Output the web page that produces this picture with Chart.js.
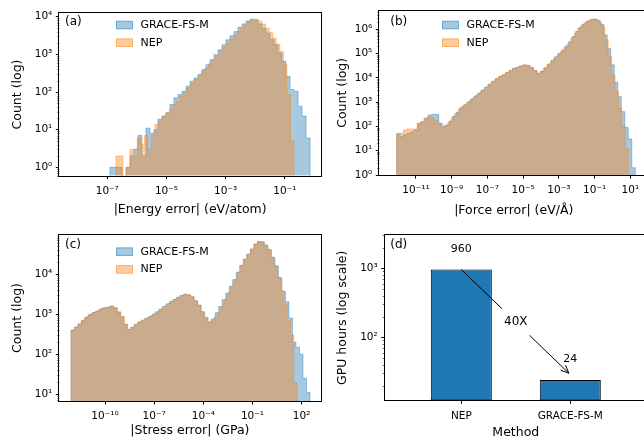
<!DOCTYPE html>
<html><head><meta charset="utf-8">
<script src="https://cdn.jsdelivr.net/npm/chart.js@4/dist/chart.umd.min.js"></script>
<style>
html,body{margin:0;padding:0;background:#fff;overflow:hidden;width:644px;height:439px;position:relative;}
canvas{position:absolute;}
</style></head>
<body>
<canvas id="ca" width="322" height="220" style="left:0;top:0"></canvas>
<canvas id="cb" width="330" height="220" style="left:322px;top:0"></canvas>
<canvas id="cc" width="322" height="219" style="left:0;top:220px"></canvas>
<canvas id="cd" width="330" height="219" style="left:322px;top:220px"></canvas>
<script>
// ---------------- DATA ----------------
const seriesNames = ['GRACE-FS-M', 'NEP'];

// (a) energy error histogram: log10 bin range + counts per bin
const energyRangeGrace = [-6.91, -0.15];
const energyCountsGrace = [1,1,1,0,1,2,3,7,2,11,8,10,19,23,28,47,70,86,105,143,194,237,290,394,
  532,721,977,1320,1795,2430,3100,4040,5260,6430,7710,8530,8100,6430,4940,3650,2530,1795,1080,652,262,117,105,42,23,6];
const energyRangeNep = [-6.71, -0.69];
const energyCountsNep = [2,2,0,1,3,2,6,4,7,3,7,14,17,23,28,34,47,57,78,99,130,168,214,273,350,435,566,721,920,1200,
  1560,1990,2530,3170,4040,4940,6060,7260,8370,8530,7710,6430,4940,3800,2690,1865,1200,533,86,5];
const energyTicksX = [-7, -5, -3, -1];
const energyTicksY = [1, 10, 100, 1000, 10000];

// (b) force error histogram
const forceRangeGrace = [-12.08, 1.28];
const forceCountsGrace = [48,38,45,52,60,71,134,156,215,295,315,315,134,98,114,167,268,380,590,760,980,1300,1740,2230,3040,4000,5400,6940,8900,11000,13000,16300,19600,
  24500,27000,30600,33800,31600,26000,19600,15200,18900,26000,37000,53000,73000,102000,139000,205000,307000,497000,805000,1200000,
  1630000,2100000,2450000,2550000,2300000,1600000,580000,160000,34000,6500,1670,405,89,30,2];
const forceRangeNep = [-12.08, 0.91];
const forceCountsNep = [52,52,71,78,78,78,134,156,215,250,230,184,134,89,114,147,230,345,520,650,830,1110,1430,1900,2450,3240,4300,5400,7400,9500,11800,13800,16800,20200,
  23800,27000,30600,33800,32700,27000,20200,15200,17800,24500,33800,46000,63000,87000,120000,175000,260000,420000,680000,1080000,
  1480000,1920000,2300000,2600000,2550000,2000000,1270000,360000,73000,13000,2670,550,98,12];
const forceTicksX = [-11, -9, -7, -5, -3, -1, 1];
const forceTicksY = [1, 10, 100, 1000, 10000, 100000, 1000000];

// (c) stress error histogram
const stressRangeGrace = [-12.07, 2.51];
const stressCountsGrace = [400,480,570,700,850,980,1100,1200,1350,1450,1480,1600,1420,1130,860,560,420,470,560,640,710,790,870,990,1150,1330,1560,1800,2100,2350,2650,2950,3150,3000,2700,
  2170,1700,1150,820,640,760,1090,1550,2300,3350,4950,7300,11000,16500,23500,31500,42000,56000,65000,64000,53000,41000,26000,16000,8100,3700,2050,800,200,150,99,25,11];
const stressRangeNep = [-12.07, 1.73];
const stressCountsNep = [400,470,560,680,800,950,1060,1130,1220,1380,1450,1500,1580,1450,1150,890,560,410,470,540,620,690,770,840,920,1050,1200,1380,1600,1850,
  2100,2350,2650,2900,3150,3050,2750,2100,1650,1150,830,640,700,830,1100,1550,2300,3400,5000,7500,11500,17000,24000,32000,43000,57000,66000,65000,54000,42000,
  27000,16500,8500,3900,1800,700,300,19];
const stressTicksX = [-10, -7, -4, -1, 2];
const stressTicksY = [10, 100, 1000, 10000];

// (d) training cost
const methods = ['NEP', 'GRACE-FS-M'];
const gpuHours = [960, 24];
const speedupText = '40X';
const costTicksY = [100, 1000];

// ---------------- STYLE / HELPERS ----------------
Chart.defaults.font.family = "'DejaVu Sans'";
Chart.defaults.color = '#000';
const BLUE = '#1f77b4';
const BLUE_A = 'rgba(31,119,180,0.4)', ORANGE_A = 'rgba(255,127,14,0.4)';
const FLOOR = 1e-3;
const SUP = {'-':'\u207B','0':'\u2070','1':'\u00B9','2':'\u00B2','3':'\u00B3','4':'\u2074','5':'\u2075','6':'\u2076','7':'\u2077','8':'\u2078','9':'\u2079'};
const pow10Label = e => '10' + String(Math.round(e)).split('').map(c => SUP[c]).join('');

function histPoints(range, counts) {
  const n = counts.length, w = (range[1] - range[0]) / n;
  const pts = [{x: range[0], y: FLOOR}];
  counts.forEach((c, i) => pts.push({x: range[0] + i * w, y: c > 0 ? c : FLOOR}));
  const last = counts[n - 1];
  pts.push({x: range[1], y: last > 0 ? last : FLOOR});
  pts.push({x: range[1], y: FLOOR});
  return pts;
}

const decor = {
  id: 'decor',
  afterDraw(chart, args, o) {
    const ctx = chart.ctx, a = chart.chartArea, ys = chart.scales.y;
    ctx.save();
    ctx.strokeStyle = '#000';
    ctx.lineWidth = 0.6;
    const d0 = Math.floor(Math.log10(ys.min)), d1 = Math.ceil(Math.log10(ys.max));
    for (let d = d0; d <= d1; d++) for (let m = 2; m < 10; m++) {
      const v = m * Math.pow(10, d);
      if (v < ys.min || v > ys.max) continue;
      const py = Math.round(ys.getPixelForValue(v)) + 0.5;
      ctx.beginPath(); ctx.moveTo(a.left, py); ctx.lineTo(a.left - 2, py); ctx.stroke();
    }
    ctx.lineWidth = 1;
    const L = Math.round(a.left) - 0.5, R = Math.round(a.right) + 0.5, T = Math.round(a.top) - 0.5, B = Math.round(a.bottom) + 0.5;
    ctx.strokeRect(L, T, R - L, B - T);
    ctx.fillStyle = '#000';
    ctx.font = "12px 'DejaVu Sans'";
    ctx.textBaseline = 'middle'; ctx.textAlign = 'left';
    ctx.fillText(o.label, o.labelX, o.labelY);
    if (o.legend) {
      const lg = o.legend;
      const rows = [[seriesNames[0], BLUE_A], [seriesNames[1], ORANGE_A]];
      ctx.font = "11px 'DejaVu Sans'";
      rows.forEach((r, i) => {
        const cy = lg.y + i * 17.7;
        ctx.fillStyle = r[1]; ctx.strokeStyle = r[1];
        ctx.fillRect(lg.x, cy - 4.25, 17, 8.5);
        ctx.strokeRect(lg.x + 0.5, cy - 4.25 + 0.5, 16, 7.5);
        ctx.fillStyle = '#000';
        ctx.fillText(r[0], lg.x + 24.5, cy);
      });
    }
    ctx.restore();
  }
};

function axisCommon() {
  return {
    grid: {display: true, offset: false, drawOnChartArea: false, drawTicks: true, tickLength: 3.5, tickColor: '#000', tickWidth: 1},
    border: {display: false}
  };
}

function histChart(id, o) {
  return new Chart(document.getElementById(id), {
    type: 'line',
    data: {datasets: [
      {label: seriesNames[1], data: histPoints(o.nepRange, o.nepCounts), order: 0, stepped: true, fill: 'start',
       borderColor: ORANGE_A, backgroundColor: ORANGE_A, borderWidth: 1, pointRadius: 0},
      {label: seriesNames[0], data: histPoints(o.graceRange, o.graceCounts), order: 1, stepped: true, fill: 'start',
       borderColor: BLUE_A, backgroundColor: BLUE_A, borderWidth: 1, pointRadius: 0}
    ]},
    options: {
      responsive: false, animation: false, events: [], devicePixelRatio: 1,
      layout: {padding: o.pad},
      plugins: {legend: {display: false}, tooltip: {enabled: false}, decor: o.decor},
      scales: {
        x: Object.assign(axisCommon(), {
          type: 'linear', min: o.xmin, max: o.xmax,
          afterBuildTicks: s => { s.ticks = o.xticks.map(v => ({value: v})); },
          afterFit: s => { s.height = o.xh; },
          ticks: {callback: v => pow10Label(v), autoSkip: false, maxRotation: 0, padding: 5.5, font: {size: 10.5}, color: '#000'},
          title: {display: true, text: o.xtitle, color: '#000', font: {size: 12.5, lineHeight: 1}, padding: {top: 0, bottom: o.xtp}}
        }),
        y: Object.assign(axisCommon(), {
          type: 'logarithmic', min: o.ymin, max: o.ymax,
          afterBuildTicks: s => { s.ticks = o.yticks.map(v => ({value: v})); },
          afterFit: s => { s.width = o.yw; },
          ticks: {callback: v => pow10Label(Math.log10(v)), autoSkip: false, padding: 3.5, font: {size: 10.5}, color: '#000'},
          title: {display: true, text: 'Count (log)', color: '#000', font: {size: 12.5, lineHeight: 1}, padding: {top: o.ytp, bottom: 0}}
        })
      }
    },
    plugins: [decor]
  });
}

histChart('ca', {
  graceRange: energyRangeGrace, graceCounts: energyCountsGrace, nepRange: energyRangeNep, nepCounts: energyCountsNep,
  xmin: -8.62, xmax: 0.22, xticks: energyTicksX, ymin: Math.pow(10, -0.195), ymax: Math.pow(10, 4.09), yticks: energyTicksY,
  pad: {left: 0, top: 13.3, right: 1, bottom: 0}, yw: 59.3, xh: 44.3, ytp: 11.05, xtp: 4.45,
  xtitle: '|Energy error| (eV/atom)',
  decor: {label: '(a)', labelX: 65, labelY: 21.7, legend: {x: 116, y: 25}}
});
histChart('cb', {
  graceRange: forceRangeGrace, graceCounts: forceCountsGrace, nepRange: forceRangeNep, nepCounts: forceCountsNep,
  xmin: -13.05, xmax: 2.0, xticks: forceTicksX, ymin: 1, ymax: Math.pow(10, 6.76), yticks: forceTicksY,
  pad: {left: 0, top: 10.7, right: 3.8, bottom: 0}, yw: 57.3, xh: 45, ytp: 14.45, xtp: 3.05,
  xtitle: '|Force error| (eV/\u00C5)',
  decor: {label: '(b)', labelX: 68.3, labelY: 21.7, legend: {x: 120, y: 25}}
});
histChart('cc', {
  graceRange: stressRangeGrace, graceCounts: stressCountsGrace, nepRange: stressRangeNep, nepCounts: stressCountsNep,
  xmin: -12.79, xmax: 3.15, xticks: stressTicksX, ymin: Math.pow(10, 0.83), ymax: Math.pow(10, 4.98), yticks: stressTicksY,
  pad: {left: 0, top: 15, right: 1.5, bottom: 0}, yw: 59.3, xh: 38, ytp: 11.05, xtp: 2.05,
  xtitle: '|Stress error| (GPa)',
  decor: {label: '(c)', labelX: 65, labelY: 25, legend: {x: 116, y: 31.7}}
});

// (d) bar chart
const costNotes = {
  id: 'costNotes',
  afterDatasetsDraw(chart) {
    const ctx = chart.ctx, xs = chart.scales.x, ys = chart.scales.y;
    ctx.save();
    ctx.fillStyle = '#000'; ctx.textAlign = 'center'; ctx.textBaseline = 'middle';
    ctx.font = "11px 'DejaVu Sans'";
    gpuHours.forEach((h, i) => ctx.fillText(String(h), xs.getPixelForValue(i), ys.getPixelForValue(h * 2)));
    const x0 = xs.getPixelForValue(0), y0 = ys.getPixelForValue(gpuHours[0]);
    const x1 = xs.getPixelForValue(1), y1 = ys.getPixelForValue(gpuHours[1] * 1.2);
    const len = Math.hypot(x1 - x0, y1 - y0), ux = (x1 - x0) / len, uy = (y1 - y0) / len;
    const ex = x1 - 2 * ux, ey = y1 - 2 * uy;
    ctx.strokeStyle = '#000'; ctx.lineWidth = 1;
    ctx.beginPath(); ctx.moveTo(x0, y0); ctx.lineTo(ex, ey); ctx.stroke();
    const hl = 8, hw = 3.5;
    ctx.beginPath();
    ctx.moveTo(ex - hl * ux + hw * uy, ey - hl * uy - hw * ux);
    ctx.lineTo(ex, ey);
    ctx.lineTo(ex - hl * ux - hw * uy, ey - hl * uy + hw * ux);
    ctx.stroke();
    const mx = xs.getPixelForValue(0.5), my = ys.getPixelForValue(Math.sqrt(gpuHours[0] * gpuHours[1] * 1.2));
    ctx.font = "12px 'DejaVu Sans'";
    const tw = ctx.measureText(speedupText).width;
    ctx.fillStyle = '#fff';
    ctx.fillRect(mx - tw / 2 - 6, my - 13.3, tw + 12, 26.6);
    ctx.fillStyle = '#000';
    ctx.fillText(speedupText, mx, my);
    ctx.restore();
  }
};

new Chart(document.getElementById('cd'), {
  type: 'bar',
  data: {datasets: [{
    data: methods.map((m, i) => ({x: i, y: gpuHours[i]})),
    backgroundColor: BLUE, borderColor: '#000', borderWidth: 1, borderSkipped: false,
    barPercentage: 0.56, categoryPercentage: 1
  }]},
  options: {
    responsive: false, animation: false, events: [], devicePixelRatio: 1,
    layout: {padding: {left: 0, top: 15.3, right: 5.1, bottom: 0}},
    plugins: {legend: {display: false}, tooltip: {enabled: false}, decor: {label: '(d)', labelX: 68.3, labelY: 25}},
    scales: {
      x: Object.assign(axisCommon(), {
        type: 'linear', min: -0.703, max: 1.703, offset: false,
        afterBuildTicks: s => { s.ticks = methods.map((m, i) => ({value: i})); },
        afterFit: s => { s.height = 38.7; },
        ticks: {callback: v => methods[v], autoSkip: false, maxRotation: 0, padding: 6.5, font: {size: 10.5}, color: '#000'},
        title: {display: true, text: 'Method', color: '#000', font: {size: 12.5, lineHeight: 1}, padding: {top: 0, bottom: 0.45}}
      }),
      y: Object.assign(axisCommon(), {
        type: 'logarithmic', min: Math.pow(10, 1.087), max: Math.pow(10, 3.478),
        afterBuildTicks: s => { s.ticks = costTicksY.map(v => ({value: v})); },
        afterFit: s => { s.width = 62.7; },
        ticks: {callback: v => pow10Label(Math.log10(v)), autoSkip: false, padding: 3.5, font: {size: 10.5}, color: '#000'},
        title: {display: true, text: 'GPU hours (log scale)', color: '#000', font: {size: 12.5, lineHeight: 1}, padding: {top: 14.45, bottom: 0}}
      })
    }
  },
  plugins: [decor, costNotes]
});
</script>
</body></html>
